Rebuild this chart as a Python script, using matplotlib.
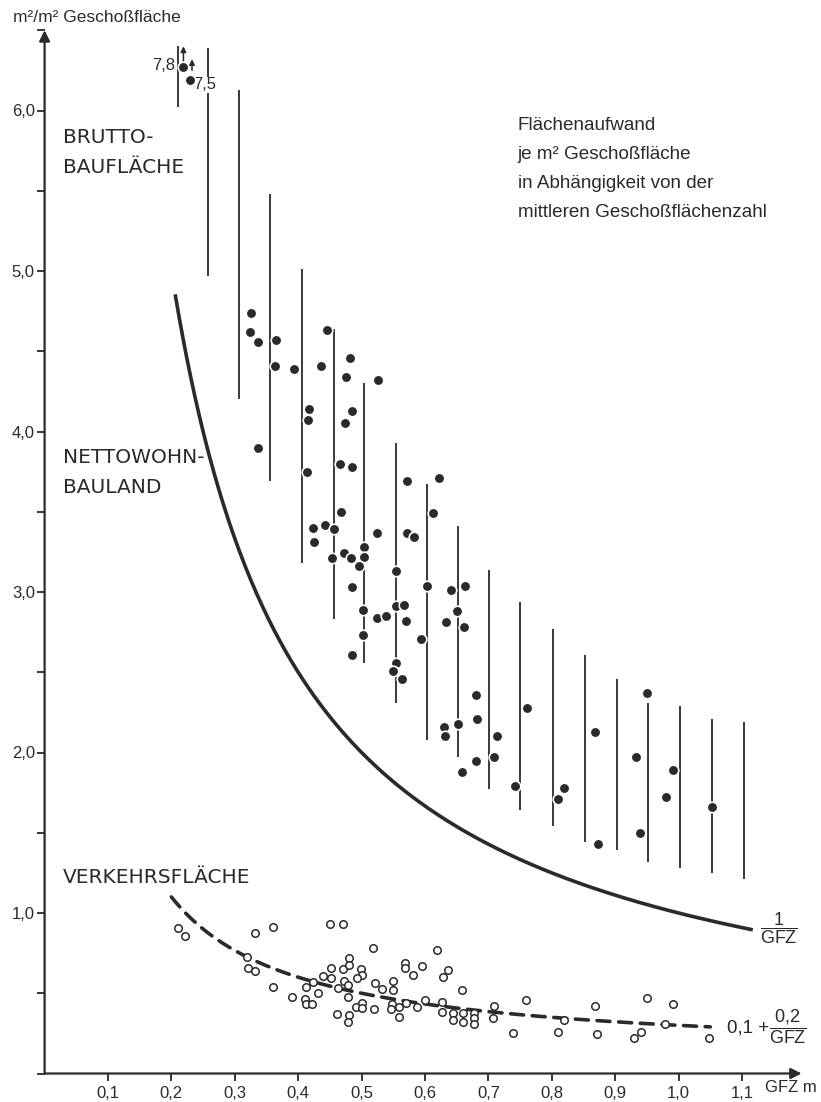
import numpy as np
import matplotlib
matplotlib.use("Agg")
import matplotlib.pyplot as plt
from matplotlib.ticker import FuncFormatter, MultipleLocator

# ----------------------------
# Data
# ----------------------------
# vertical range bars: Brutto-Baufläche per GFZ class
bar_gfz = [0.210, 0.258, 0.307, 0.356, 0.406, 0.456, 0.504, 0.554, 0.603, 0.652,
           0.701, 0.750, 0.802, 0.852, 0.903, 0.952, 1.002, 1.053, 1.103]
bar_top = [6.40, 6.39, 6.13, 5.48, 5.01, 4.64, 4.30, 3.93, 3.67, 3.41,
           3.14, 2.94, 2.77, 2.61, 2.46, 2.31, 2.29, 2.21, 2.19]
bar_bottom = [6.02, 4.97, 4.20, 3.69, 3.18, 2.83, 2.56, 2.31, 2.08, 1.97,
              1.77, 1.64, 1.54, 1.44, 1.39, 1.32, 1.28, 1.25, 1.21]

# filled dots: Nettowohnbauland
netto_gfz = [0.326, 0.324, 0.337, 0.365, 0.363, 0.393, 0.436, 0.445, 0.482, 0.475,
             0.526, 0.417, 0.415, 0.485, 0.474, 0.337, 0.414, 0.466, 0.485, 0.572,
             0.622, 0.468, 0.613, 0.423, 0.442, 0.456, 0.425, 0.524, 0.572, 0.583,
             0.504, 0.504, 0.472, 0.453, 0.483, 0.496, 0.554, 0.485, 0.603, 0.641,
             0.663, 0.502, 0.524, 0.538, 0.554, 0.567, 0.570, 0.633, 0.650, 0.662,
             0.502, 0.594, 0.485, 0.554, 0.550, 0.564, 0.680, 0.682, 0.630, 0.632,
             0.652, 0.680, 0.658, 0.714, 0.709, 0.761, 0.742, 0.810, 0.819, 0.868,
             0.873, 0.950, 0.933, 0.939, 0.991, 0.980, 1.053]
netto_val = [4.74, 4.62, 4.56, 4.57, 4.41, 4.39, 4.41, 4.63, 4.46, 4.34,
             4.32, 4.14, 4.07, 4.13, 4.05, 3.90, 3.75, 3.80, 3.78, 3.69,
             3.71, 3.50, 3.49, 3.40, 3.42, 3.39, 3.31, 3.37, 3.37, 3.34,
             3.28, 3.22, 3.24, 3.21, 3.21, 3.16, 3.13, 3.03, 3.04, 3.01,
             3.04, 2.89, 2.84, 2.85, 2.91, 2.92, 2.82, 2.81, 2.88, 2.78,
             2.73, 2.71, 2.61, 2.56, 2.51, 2.46, 2.36, 2.21, 2.16, 2.10,
             2.18, 1.95, 1.88, 2.10, 1.97, 2.28, 1.79, 1.71, 1.78, 2.13,
             1.43, 2.37, 1.97, 1.50, 1.89, 1.72, 1.66]

# off-scale values, drawn at the top with an arrow
offscale_gfz = [0.218, 0.229]
offscale_plot = [6.27, 6.19]
offscale_label = ["7,8", "7,5"]

# open circles: Verkehrsfläche
verkehr_gfz = [0.211, 0.222, 0.332, 0.360, 0.319, 0.321, 0.332, 0.360, 0.450, 0.471,
               0.518, 0.390, 0.412, 0.411, 0.412, 0.422, 0.423, 0.431, 0.439, 0.452,
               0.452, 0.463, 0.461, 0.471, 0.472, 0.480, 0.480, 0.479, 0.479, 0.480,
               0.479, 0.499, 0.501, 0.493, 0.491, 0.501, 0.501, 0.521, 0.532, 0.520,
               0.550, 0.550, 0.548, 0.546, 0.559, 0.559, 0.569, 0.569, 0.570, 0.581,
               0.587, 0.600, 0.595, 0.619, 0.628, 0.627, 0.627, 0.636, 0.644, 0.644,
               0.658, 0.660, 0.660, 0.677, 0.677, 0.677, 0.709, 0.707, 0.739, 0.759,
               0.810, 0.819, 0.868, 0.871, 0.930, 0.941, 0.950, 0.978, 0.991, 1.048]
verkehr_val = [0.906, 0.857, 0.875, 0.913, 0.726, 0.657, 0.639, 0.539, 0.931, 0.931,
               0.782, 0.477, 0.539, 0.464, 0.433, 0.433, 0.570, 0.502, 0.607, 0.657,
               0.595, 0.533, 0.371, 0.651, 0.576, 0.720, 0.676, 0.551, 0.477, 0.364,
               0.321, 0.651, 0.614, 0.595, 0.414, 0.439, 0.408, 0.564, 0.526, 0.402,
               0.576, 0.520, 0.433, 0.402, 0.414, 0.352, 0.688, 0.657, 0.439, 0.614,
               0.414, 0.458, 0.670, 0.769, 0.601, 0.445, 0.383, 0.645, 0.377, 0.333,
               0.520, 0.377, 0.321, 0.377, 0.346, 0.308, 0.421, 0.346, 0.252, 0.458,
               0.259, 0.333, 0.421, 0.246, 0.221, 0.259, 0.470, 0.308, 0.433, 0.221]

# model curves printed in the chart: 1/GFZ and 0.1 + 0.2/GFZ
netto_range = (0.206, 1.117)
verkehr_range = (0.200, 1.050)
verkehr_a, verkehr_b = 0.1, 0.2

INK = "#2a2a2a"

# ----------------------------
# Figure
# ----------------------------
plt.rcParams["font.family"] = ["Liberation Sans", "DejaVu Sans"]
plt.rcParams["mathtext.fontset"] = "custom"
plt.rcParams["mathtext.rm"] = "Liberation Sans"
plt.rcParams["mathtext.it"] = "Liberation Sans"

W, H = 821, 1102
fig = plt.figure(figsize=(W / 100, H / 100), dpi=100)
ax = fig.add_axes([44.6 / W, 28.5 / H, 760.8 / W, 1043.25 / H])
ax.set_xlim(0, 1.2)
ax.set_ylim(0, 6.5)
for s in ax.spines.values():
    s.set_visible(False)

# axes with arrows
arrow = dict(arrowstyle="-|>", lw=1.6, color=INK, mutation_scale=16, shrinkA=0, shrinkB=0)
ax.annotate("", xy=(0, 1.0), xytext=(0, 0), xycoords="axes fraction", arrowprops=arrow)
ax.annotate("", xy=(0.995, 0), xytext=(0, 0), xycoords="axes fraction", arrowprops=arrow)

# ticks
comma = FuncFormatter(lambda v, p: f"{v:.1f}".replace(".", ","))
ax.set_xticks(np.arange(1, 12) / 10)
ax.xaxis.set_major_formatter(comma)
ax.set_yticks(np.arange(1, 7))
ax.yaxis.set_major_formatter(comma)
ax.yaxis.set_minor_locator(MultipleLocator(0.5))
ax.tick_params(axis="both", which="both", direction="out", color=INK, width=1.3,
               labelsize=12, labelcolor=INK)
ax.tick_params(axis="y", which="major", length=6, pad=1)
ax.tick_params(axis="y", which="minor", length=6)
ax.tick_params(axis="x", which="major", length=5, pad=4)
ax.yaxis.set_minor_formatter(FuncFormatter(lambda v, p: ""))

# range bars
ax.vlines(bar_gfz, bar_bottom, bar_top, color=INK, lw=1.3, zorder=2)

# model curves
g1 = np.linspace(*netto_range, 300)
ax.plot(g1, 1 / g1, color=INK, lw=2.6, solid_capstyle="butt", zorder=3)
g2 = np.linspace(*verkehr_range, 300)
ax.plot(g2, verkehr_a + verkehr_b / g2, color=INK, lw=2.6, dashes=(3.6, 2.4),
        dash_capstyle="round", zorder=3)

# points
ax.plot(netto_gfz, netto_val, "o", ms=7.6, color=INK, mec="white", mew=1.2, zorder=4)
ax.plot(offscale_gfz, offscale_plot, "o", ms=7.6, color=INK, mec="white", mew=1.2, zorder=4)
ax.plot(verkehr_gfz, verkehr_val, "o", ms=5.4, mfc="white", mec=INK, mew=1.1, zorder=5)

# off-scale arrows + labels
small_arrow = dict(arrowstyle="-|>", lw=1.1, color=INK, mutation_scale=8, shrinkA=0, shrinkB=0)
arrow_dx = [0.001, 0.0035]
arrow_start = [0.04, 0.06]
arrow_tip = [0.13, 0.13]
for gx, gy, dx, a0, a1 in zip(offscale_gfz, offscale_plot, arrow_dx, arrow_start, arrow_tip):
    ax.annotate("", xy=(gx + dx, gy + a1), xytext=(gx + dx, gy + a0),
                arrowprops=small_arrow, zorder=6)
ax.text(offscale_gfz[0] - 0.012, offscale_plot[0] + 0.01, offscale_label[0], ha="right",
        va="center", fontsize=12, color=INK)
ax.text(offscale_gfz[1] + 0.006, offscale_plot[1] - 0.03, offscale_label[1], ha="left",
        va="center", fontsize=12, color=INK,
        bbox=dict(facecolor="white", edgecolor="none", pad=0.5))

# labels
lab = dict(fontsize=14.5, color=INK, family="DejaVu Sans", ha="left", va="center")
ax.text(0.029, 5.83, "BRUTTO-", **lab)
ax.text(0.029, 5.645, "BAUFLÄCHE", **lab)
ax.text(0.029, 3.835, "NETTOWOHN-", **lab)
ax.text(0.029, 3.65, "BAULAND", **lab)
ax.text(0.029, 1.22, "VERKEHRSFLÄCHE", **lab)

ax.text(0.7465, 5.96, "Flächenaufwand\nje m² Geschoßfläche\nin Abhängigkeit von der\n"
        "mittleren Geschoßflächenzahl", fontsize=13.6, color=INK, ha="left", va="top",
        linespacing=1.92)

ax.text(1.128, 0.906, r"$\dfrac{1}{\mathrm{GFZ}}$", fontsize=13, color=INK, ha="left", va="center")
ax.text(1.076, 0.285, "0,1 +", fontsize=13.5, color=INK, ha="left", va="center")
ax.text(1.142, 0.29, r"$\dfrac{0{,}2}{\mathrm{GFZ}}$", fontsize=13, color=INK,
        ha="left", va="center")

fig.text(13 / W, 1 - 18 / H, "m²/m² Geschoßfläche", fontsize=12.5, color=INK, ha="left", va="center")
fig.text(765 / W, 1 - 1088 / H, "GFZ m", fontsize=12, color=INK, ha="left", va="center")

fig.savefig("out.png", dpi=100, facecolor="white")
